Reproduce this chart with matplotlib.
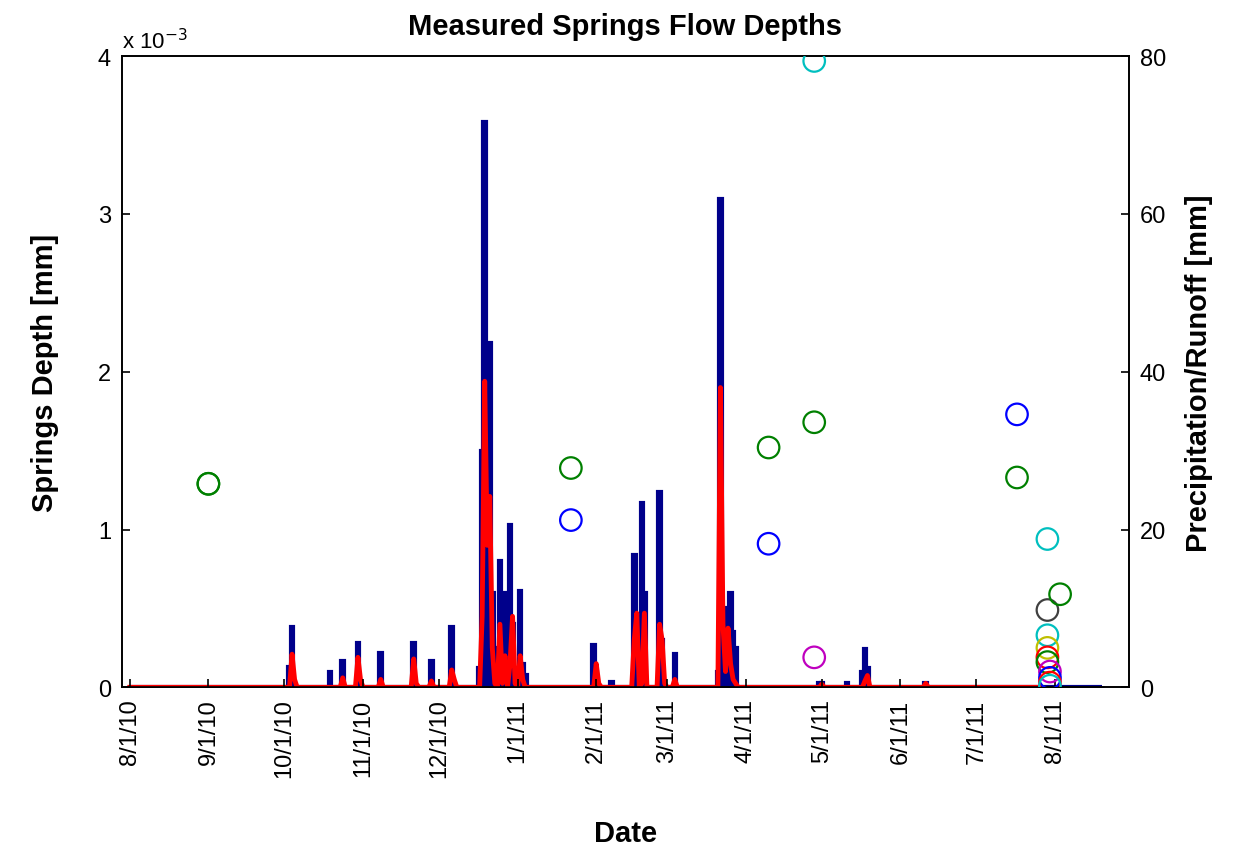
import matplotlib
matplotlib.use("Agg")
import matplotlib.pyplot as plt
import numpy as np
import datetime as dt

plt.rcParams['font.family'] = ['Liberation Sans', 'DejaVu Sans']

start = dt.date(2010, 8, 1)
# precipitation events: day offset from 8/1/10, mm
precip_days = [63, 64, 79, 84, 90, 99, 112, 119, 127, 138, 139, 140, 141, 142, 143, 144, 146, 147, 148, 150, 151, 154, 155, 156,
               183, 184, 190, 199, 200, 202, 203, 209, 210, 215, 232, 233, 234, 236, 237, 238, 239, 272, 273, 283, 289, 290, 291, 314]
precip_vals = [2.6, 7.7, 1.9, 3.3, 5.6, 4.4, 5.6, 3.3, 7.6, 2.5, 30.0, 71.6, 20.0, 43.7, 12.0, 5.0, 16.0, 7.0, 12.0, 20.6, 8.0, 12.2, 3.0, 1.5,
               5.4, 2.0, 0.7, 16.8, 9.0, 23.4, 12.0, 24.8, 6.0, 4.2, 2.0, 61.9, 8.0, 10.0, 12.0, 7.0, 5.0, 0.6, 0.5, 0.6, 2.0, 4.8, 2.5, 0.5]
# runoff (mm) per day, zero elsewhere
runoff_days = [64, 65, 84, 90, 91, 99, 112, 113, 119, 127, 128, 139, 140, 141, 142, 143, 144, 145, 146, 147, 148, 150, 151, 152, 154, 155,
               184, 185, 199, 200, 202, 203, 209, 210, 211, 215, 233, 234, 235, 236, 237, 238, 239, 273, 290, 291, 314]
runoff_vals = [4.2, 1.0, 1.2, 3.8, 1.0, 1.0, 3.6, 0.5, 0.8, 2.2, 1.0, 9.0, 38.8, 18.0, 24.2, 5.0, 0.5, 0.0, 8.0, 0.5, 4.0, 3.0, 9.0, 0.5, 4.0, 1.0,
               3.0, 0.5, 6.0, 9.4, 0.5, 9.4, 8.0, 6.0, 0.5, 1.0, 38.0, 8.0, 2.0, 7.5, 3.0, 1.0, 0.5, 0.4, 0.8, 1.5, 0.5]
# springs depth measurements [1e-3 mm]
spring_days = [31, 31, 174, 174, 252, 252, 270, 270, 270, 350, 350,
               362, 367, 362, 362, 362, 362, 362, 363, 363, 363, 363]
spring_vals = [1.29, 1.29, 1.39, 1.06, 1.52, 0.91, 3.97, 1.68, 0.19, 1.73, 1.33,
               0.49, 0.59, 0.94, 0.33, 0.25, 0.19, 0.16, 0.10, 0.06, 0.03, 0.01]
spring_cols = ['green', 'green', 'green', 'blue', 'green', 'blue', 'c', 'green', 'm', 'blue', 'green',
               '#404040', 'green', 'c', 'c', 'y', 'r', 'green', 'm', 'blue', 'r', 'c']

ndays = 384
days = np.arange(ndays)
P = np.zeros(ndays); P[precip_days] = precip_vals
R = np.zeros(ndays); R[runoff_days] = runoff_vals
dates = [start + dt.timedelta(int(d)) for d in days]
rdays = np.arange(0, 360)
rdates = [start + dt.timedelta(int(d)) for d in rdays]

fig = plt.figure(figsize=(12.47, 8.54), dpi=100)
ax = fig.add_axes([0.098, 0.194, 0.807, 0.739])
ax2 = ax.twinx()

ax2.bar(dates, P, width=1.0, color='#00008B', edgecolor='#00008B', linewidth=3, zorder=2)
ax2.plot(dates, np.zeros(ndays), '_', color='#00008B', ms=4, mew=2, zorder=2)
ax2.plot(rdates, R[rdays], color='red', lw=3.5, zorder=3)
ax2.set_ylim(0, 80)
ax2.set_yticks([0, 20, 40, 60, 80])
ax2.set_ylabel('Precipitation/Runoff [mm]', fontsize=21, fontweight='bold', labelpad=14)

sd = [start + dt.timedelta(int(d)) for d in spring_days]
ax.scatter(sd, np.array(spring_vals) * 1e-3, s=240, facecolors='none', edgecolors=spring_cols, linewidths=1.6, zorder=5)
ax.set_zorder(ax2.get_zorder() + 1)
ax.patch.set_visible(False)
ax.set_ylim(0, 4e-3)
ax.set_yticks([0, 1e-3, 2e-3, 3e-3, 4e-3])
ax.set_yticklabels(['0', '1', '2', '3', '4'])
ax.text(0.0, 1.005, r'x 10$^{-3}$', transform=ax.transAxes, fontsize=16, va='bottom', ha='left')
ax.set_ylabel('Springs Depth [mm]', fontsize=21, fontweight='bold', labelpad=28)
ax.set_title('Measured Springs Flow Depths', fontsize=21, fontweight='bold', pad=16)
ax.set_xlabel('Date', fontsize=21, fontweight='bold', labelpad=30)

ax.set_xlim(dt.date(2010, 7, 29), dt.date(2011, 8, 30))
tick_dates = [dt.date(2010, m, 1) for m in range(8, 13)] + [dt.date(2011, m, 1) for m in range(1, 9)]
ax.set_xticks(tick_dates)
ax.set_xticklabels([f"{d.month}/1/{d.year % 100}" for d in tick_dates], rotation=90)
for a in (ax, ax2):
    a.tick_params(labelsize=17, direction='in', length=6, width=1.2, pad=8)
    for s in a.spines.values():
        s.set_linewidth(1.2)
fig.savefig('out.png', dpi=100)
